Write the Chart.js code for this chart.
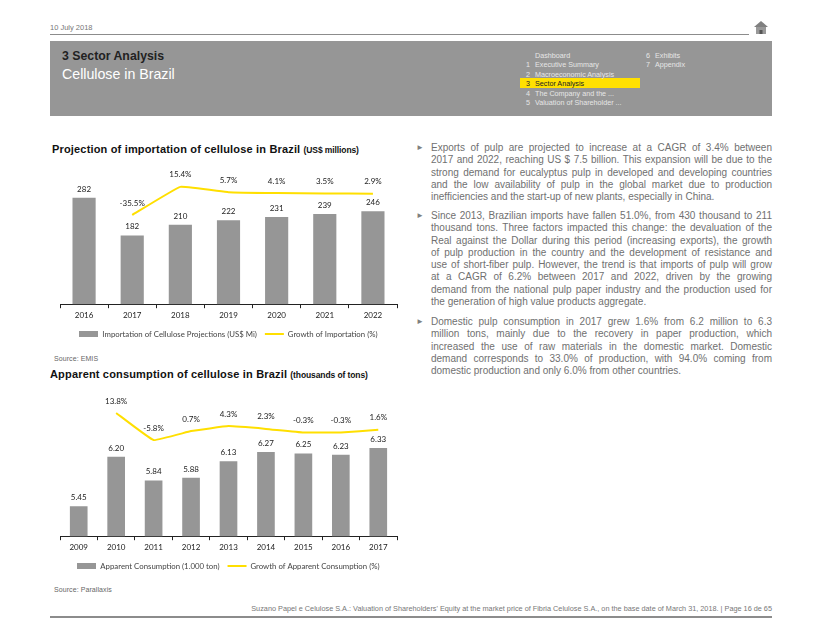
<!DOCTYPE html>
<html>
<head>
<meta charset="utf-8">
<script src="https://cdn.jsdelivr.net/npm/chart.js@4"></script>
<style>
body { margin: 0; background: #fff; font-family: "Liberation Sans", Arial, sans-serif; }
#page { position: relative; width: 822px; height: 635px; overflow: hidden; }
.abs { position: absolute; white-space: nowrap; }
canvas { position: absolute; }
.nav { font-size: 7.2px; color: #e6e6e6; line-height: 9px; }
.src { font-size: 7px; color: #666; letter-spacing: 0.08px; }
.chart-title { font-size: 11px; font-weight: bold; color: #111; letter-spacing: 0.17px; }
.chart-title small { font-size: 8.5px; letter-spacing: -0.1px; }
.para { position: absolute; left: 431px; width: 341px; font-size: 10px; line-height: 12.3px; color: #707070; }
.para div { text-align: justify; text-align-last: justify; white-space: nowrap; }
.para div.end { text-align-last: left; }
.bullet { position: absolute; left: 416px; font-size: 8px; color: #808080; }
</style>
</head>
<body>
<div id="page">
  <div class="abs" style="left:50px;top:23px;font-size:7.5px;color:#777;">10 July 2018</div>
  <div class="abs" style="left:50px;top:33.5px;width:699px;height:1.5px;background:#8c8c8c;"></div>
  <svg class="abs" style="left:754px;top:21px;" width="14" height="13" viewBox="0 0 14 13">
    <polygon points="7,0 14,6 0,6" fill="#808080"/>
    <rect x="2" y="6" width="10" height="7" fill="#999"/>
    <rect x="5.5" y="9" width="3" height="4" fill="#555"/>
  </svg>

  <div class="abs" style="left:50px;top:41px;width:722px;height:75px;background:#969696;"></div>
  <div class="abs" style="left:62px;top:49px;font-size:12.3px;font-weight:bold;color:#222;">3 Sector Analysis</div>
  <div class="abs" style="left:62px;top:66px;font-size:14.2px;color:#fff;">Cellulose in Brazil</div>

  <div class="abs" style="left:520px;top:78px;width:120px;height:10px;background:#ffe000;"></div>
  <div id="nav"></div>

  <div class="abs chart-title" style="left:52px;top:143px;">Projection of importation of cellulose in Brazil <small>(US$ millions)</small></div>
  <canvas id="importChart" width="357" height="198" style="left:50px;top:150px;"></canvas>
  <div class="abs src" style="left:54px;top:355px;">Source: EMIS</div>

  <div class="abs chart-title" style="left:50px;top:368px;">Apparent consumption of cellulose in Brazil <small>(thousands of tons)</small></div>
  <canvas id="consumptionChart" width="357" height="200" style="left:50px;top:380px;"></canvas>
  <div class="abs src" style="left:54px;top:586px;">Source: Parallaxis</div>

  <div id="text"></div>

  <div class="abs" style="right:50px;top:604px;font-size:7.3px;color:#777;">Suzano Papel e Celulose S.A.: Valuation of Shareholders' Equity at the market price of Fibria Celulose S.A., on the base date of March 31, 2018. | Page 16 de 65</div>
  <div class="abs" style="left:50px;top:616px;width:722px;height:1.5px;background:#8c8c8c;"></div>
</div>

<script>
'use strict';

const importYears = ['2016', '2017', '2018', '2019', '2020', '2021', '2022'];
const importValues = [282, 182, 210, 222, 231, 239, 246];
const importGrowth = [null, -35.5, 15.4, 5.7, 4.1, 3.5, 2.9];

const consumptionYears = ['2009', '2010', '2011', '2012', '2013', '2014', '2015', '2016', '2017'];
const consumptionValues = [5.45, 6.20, 5.84, 5.88, 6.13, 6.27, 6.25, 6.23, 6.33];
const consumptionGrowth = [null, 13.8, -5.8, 0.7, 4.3, 2.3, -0.3, -0.3, 1.6];

const navRows = [
  ['', 'Dashboard', 55],
  ['1', 'Executive Summary', 64.5],
  ['2', 'Macroeconomic Analysis', 74],
  ['3', 'Sector Analysis', 83.5],
  ['4', 'The Company and the  ...', 93],
  ['5', 'Valuation of Shareholder  ...', 102]
];
const navRows2 = [['6', 'Exhibits', 55], ['7', 'Appendix', 64.5]];

const paragraphs = [
  { top: 142, lines: [
    'Exports of pulp are projected to increase at a CAGR of 3.4% between',
    '2017 and 2022, reaching US $ 7.5 billion. This expansion will be due to the',
    'strong demand for eucalyptus pulp in developed and developing countries',
    'and the low availability of pulp in the global market due to production',
    'inefficiencies and the start-up of new plants, especially in China.'
  ]},
  { top: 210, lines: [
    'Since 2013, Brazilian imports have fallen 51.0%, from 430 thousand to 211',
    'thousand tons. Three factors impacted this change: the devaluation of the',
    'Real against the Dollar during this period (increasing exports), the growth',
    'of pulp production in the country and the development of resistance and',
    'use of short-fiber pulp. However, the trend is that imports of pulp will grow',
    'at a CAGR of 6.2% between 2017 and 2022, driven by the growing',
    'demand from the national pulp paper industry and the production used for',
    'the generation of high value products aggregate.'
  ]},
  { top: 316, lines: [
    'Domestic pulp consumption in 2017 grew 1.6% from 6.2 million to 6.3',
    'million tons, mainly due to the recovery in paper production, which',
    'increased the use of raw materials in the domestic market. Domestic',
    'demand corresponds to 33.0% of production, with 94.0% coming from',
    'domestic production and only 6.0% from other countries.'
  ]}
];

// header menu
function addNav(rows, numX, textX) {
  var box = document.getElementById('nav');
  rows.forEach(row => {
    var active = row[0] === '3';
    [[row[0], numX], [row[1], textX]].forEach(part => {
      var el = document.createElement('div');
      el.className = 'abs nav';
      el.textContent = part[0];
      el.style.left = part[1] + 'px';
      el.style.top = (row[2] - 4.5) + 'px';
      if (active) el.style.color = '#222';
      box.appendChild(el);
    });
  });
}
addNav(navRows, 526, 535);
addNav(navRows2, 646, 655);

// right hand text, line breaks kept as in the report
var textBox = document.getElementById('text');
paragraphs.forEach(p => {
  var bullet = document.createElement('div');
  bullet.className = 'bullet';
  bullet.textContent = '\u25BA';
  bullet.style.top = (p.top + 1) + 'px';
  textBox.appendChild(bullet);
  var para = document.createElement('div');
  para.className = 'para';
  para.style.top = p.top + 'px';
  p.lines.forEach((line, i) => {
    var el = document.createElement('div');
    el.textContent = line;
    if (i === p.lines.length - 1) el.className = 'end';
    para.appendChild(el);
  });
  textBox.appendChild(para);
});

// grey swatch for the bar entry in the legend
function barSwatch() {
  var c = document.createElement('canvas');
  c.width = 19;
  c.height = 6;
  var ctx = c.getContext('2d');
  ctx.fillStyle = '#969696';
  ctx.fillRect(0, 0, 19, 6);
  return c;
}

// value labels above the bars and above the line
const valueLabels = {
  id: 'valueLabels',
  afterDatasetsDraw(chart, args, opts) {
    var ctx = chart.ctx;
    ctx.save();
    ctx.font = '8px Lato';
    ctx.fillStyle = '#222';
    ctx.textAlign = 'center';
    ctx.textBaseline = 'middle';
    chart.data.datasets.forEach((ds, d) => {
      var meta = chart.getDatasetMeta(d);
      ds.data.forEach((v, i) => {
        if (v === null) return;
        var pt = meta.data[i];
        var txt = ds.type === 'line' ? v.toFixed(1) + '%' : v.toFixed(opts.decimals);
        ctx.fillText(txt, pt.x, pt.y - (ds.type === 'line' ? 12 : 9));
      });
    });
    ctx.restore();
  }
};

function makeChart(id, years, bars, growth, barName, lineName, cfg) {
  return new Chart(document.getElementById(id).getContext('2d'), {
    data: {
      labels: years,
      datasets: [
        { type: 'bar', label: barName, data: bars, backgroundColor: '#969696', barThickness: cfg.barWidth, yAxisID: 'y', order: 2 },
        { type: 'line', label: lineName, data: growth, borderColor: '#ffdf00', borderWidth: 2, pointRadius: 0, tension: 0.08, yAxisID: 'y1', order: 1 }
      ]
    },
    options: {
      responsive: false,
      animation: false,
      layout: { padding: { left: 10, right: 10, top: cfg.top, bottom: 0 } },
      plugins: {
        tooltip: { enabled: false },
        valueLabels: { decimals: cfg.decimals },
        legend: {
          position: 'bottom',
          labels: {
            color: '#444',
            font: { family: 'Lato', size: 7.8 },
            usePointStyle: true,
            pointStyleWidth: 19,
            boxHeight: 6,
            padding: cfg.legendPad,
            sort: (a, b) => a.datasetIndex - b.datasetIndex,
            generateLabels(chart) {
              var items = Chart.defaults.plugins.legend.labels.generateLabels(chart);
              items.forEach(item => {
                if (item.datasetIndex === 0) {
                  item.pointStyle = barSwatch();
                } else {
                  item.pointStyle = 'line';
                  item.strokeStyle = '#ffdf00';
                  item.lineWidth = 2;
                }
              });
              return items;
            }
          }
        }
      },
      scales: {
        x: {
          grid: { drawOnChartArea: false, drawTicks: true, tickLength: 4, color: '#222', offset: true },
          border: { color: '#222' },
          ticks: { color: '#222', font: { family: 'Lato', size: 8, lineHeight: 1 }, padding: 3, maxRotation: 0 }
        },
        y: { display: false, min: cfg.yMin, max: cfg.yMax },
        y1: { display: false, min: cfg.lineMin, max: cfg.lineMax }
      }
    },
    plugins: [valueLabels]
  });
}

makeChart('importChart', importYears, importValues, importGrowth,
  'Importation of Cellulose Projections (US$ Mi)', 'Growth of Importation (%)',
  { barWidth: 22.5, decimals: 0, top: 15, legendPad: 8, yMin: 0, yMax: 370, lineMin: -197, lineMax: 55 });

makeChart('consumptionChart', consumptionYears, consumptionValues, consumptionGrowth,
  'Apparent Consumption (1.000 ton)', 'Growth of Apparent Consumption (%)',
  { barWidth: 17, decimals: 2, top: 15, legendPad: 8, yMin: 5, yMax: 7.14, lineMin: -75.3, lineMax: 26.8 });
</script>
</body>
</html>
